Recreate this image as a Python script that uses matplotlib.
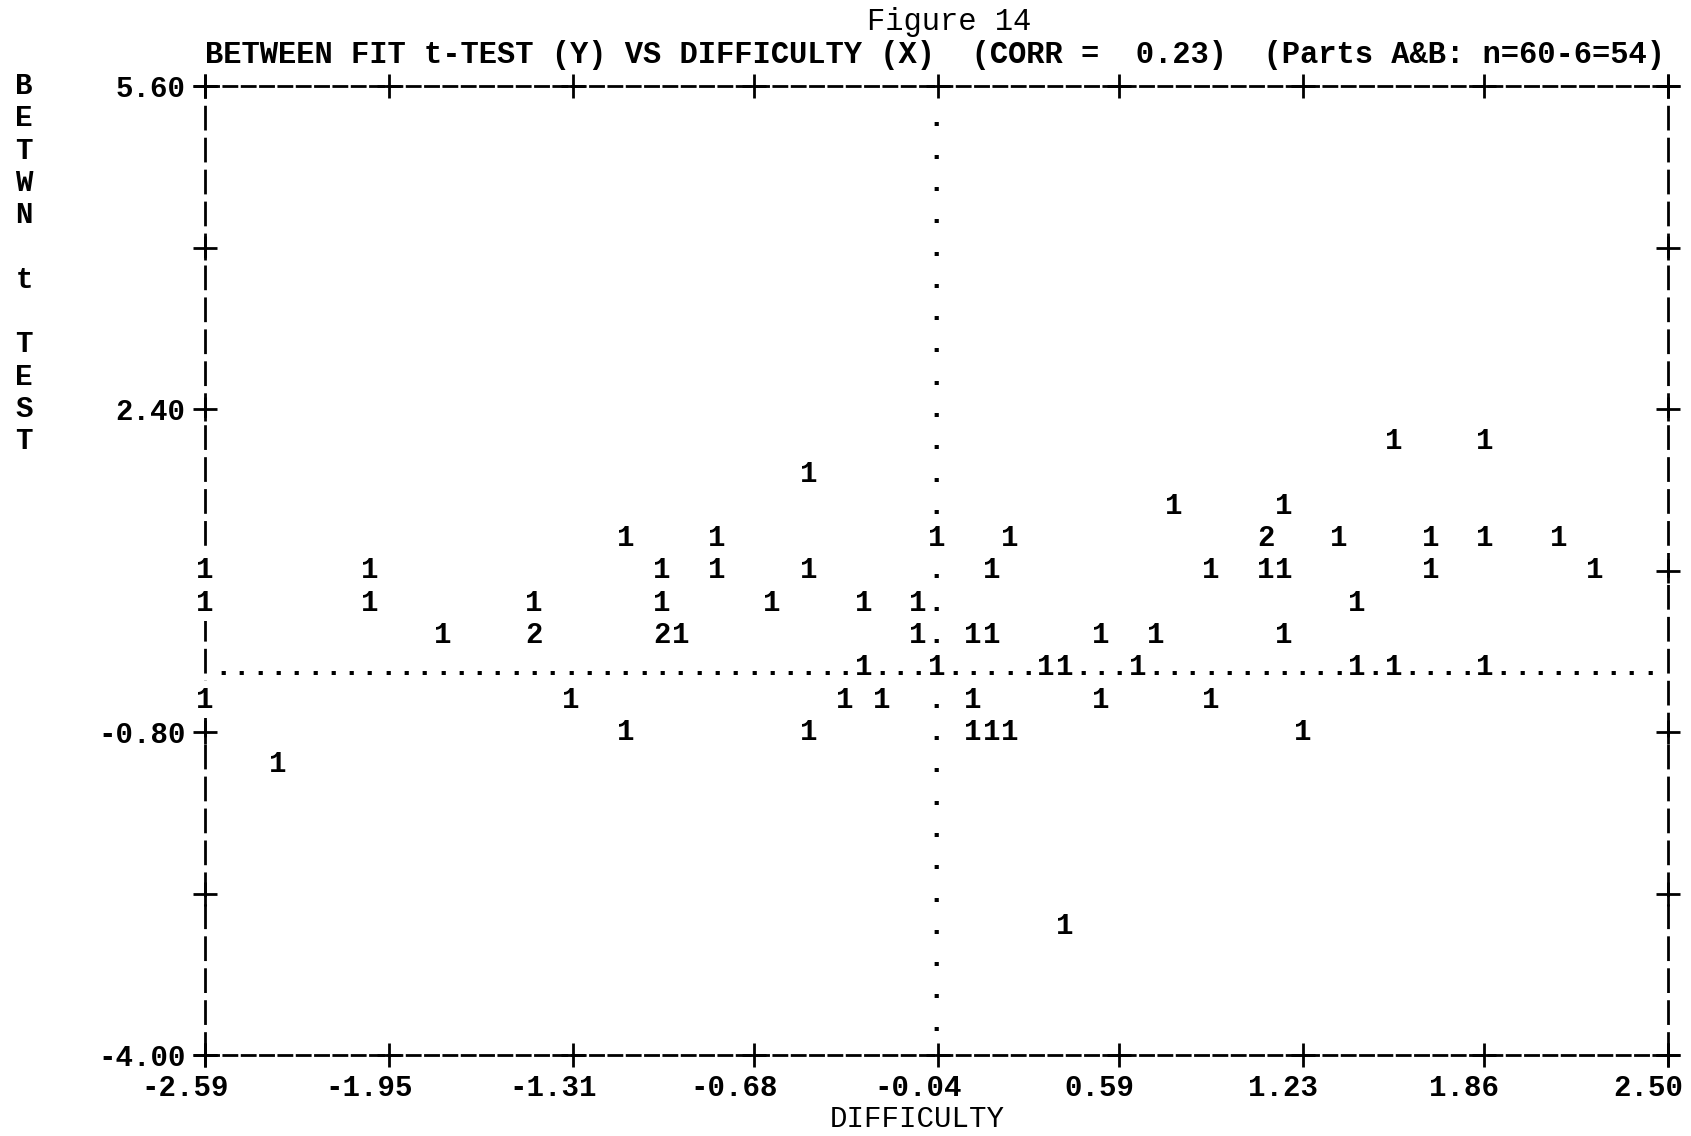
import numpy as np
import matplotlib
matplotlib.use("Agg")
import matplotlib.pyplot as plt
import matplotlib.transforms as mtransforms
from collections import Counter

plt.rcParams['font.family'] = ['Liberation Mono', 'DejaVu Sans Mono']

# values (one entry per item, duplicates = "2")
difficulty = [1.55, 1.86,
              -0.49,
              0.78, 1.16,
              -1.13, -0.81, -0.04, 0.21, 1.10, 1.10, 1.35, 1.67, 1.86, 2.12,
              -2.59, -2.02, -1.00, -0.81, -0.49, 0.15, 0.91, 1.10, 1.16, 1.67, 2.25,
              -2.59, -2.02, -1.44, -1.00, -0.62, -0.30, -0.11, 1.42,
              -1.76, -1.44, -1.44, -1.00, -1.00, -0.94, -0.11, 0.08, 0.15, 0.53, 0.72, 1.16,
              -0.30, -0.04, 0.34, 0.40, 0.65, 1.42, 1.55, 1.86,
              -2.59, -1.32, -0.36, -0.24, 0.08, 0.53, 0.91,
              -1.13, -0.49, 0.08, 0.15, 0.21, 1.23,
              -2.34,
              0.40]
between_t = [2.08] * 2 + [1.76] * 1 + [1.44] * 2 + [1.12] * 10 + [0.80] * 11 + \
            [0.48] * 8 + [0.16] * 12 + [-0.16] * 8 + [-0.48] * 7 + [-0.80] * 6 + \
            [-1.12] * 1 + [-2.72] * 1

x_ticks = [-2.59, -1.95, -1.31, -0.68, -0.04, 0.59, 1.23, 1.86, 2.50]
x_labels = ["-2.59", "-1.95", "-1.31", "-0.68", "-0.04", "0.59", "1.23", "1.86", "2.50"]
y_ticks = [5.60, 4.00, 2.40, 0.80, -0.80, -2.40, -4.00]
y_labels = ["5.60", "", "2.40", "", "-0.80", "", "-4.00"]
mean_x = -0.04
mean_y = -0.16

title1 = "Figure 14"
title2 = "BETWEEN FIT t-TEST (Y) VS DIFFICULTY (X)  (CORR =  0.23)  (Parts A&B: n=60-6=54)"
ylab = "BETWN t TEST"
xlab = "DIFFICULTY"

FS = 21
xmin, xmax = x_ticks[0], x_ticks[-1]
ymin, ymax = y_ticks[-1], y_ticks[0]
ncol, nrow = 80, 30
dx = (xmax - xmin) / ncol
dy = (ymax - ymin) / nrow

fig = plt.figure(figsize=(16.91, 11.36), dpi=100)
ax = fig.add_axes([205 / 1691, 1 - 1055 / 1136, 1463 / 1691, 969 / 1136])
ax.set_xlim(xmin, xmax)
ax.set_ylim(ymin, ymax)

# dashed typewriter frame
for side in ['top', 'bottom']:
    ax.spines[side].set_linestyle((0, (4.7, 1.9)))
    ax.spines[side].set_linewidth(2)
for side in ['left', 'right']:
    ax.spines[side].set_linestyle((0, (7.9, 3.6)))
    ax.spines[side].set_linewidth(2)

ax.set_xticks(x_ticks, x_labels, fontsize=FS, fontweight='bold')
ax.set_yticks(y_ticks, y_labels, fontsize=FS, fontweight='bold')
ax.tick_params(length=0, pad=14)
shift = mtransforms.ScaledTranslation(-0.2, 0, fig.dpi_scale_trans)
for lbl in ax.get_xticklabels():
    lbl.set_transform(lbl.get_transform() + shift)

# "+" marks on the frame
pk = dict(marker='+', ms=17, mew=2, color='k', ls='none', clip_on=False, zorder=2.6)
ax.plot(x_ticks, [ymax] * len(x_ticks), **pk)
ax.plot(x_ticks, [ymin] * len(x_ticks), **pk)
ax.plot([xmin] * len(y_ticks), y_ticks, **pk)
ax.plot([xmax] * len(y_ticks), y_ticks, **pk)

# snap points to the character grid and count
cells = Counter()
for x, y in zip(difficulty, between_t):
    c = int(round((x - xmin) / dx))
    r = int(round((ymax - y) / dy))
    cells[(c, r)] += 1

for (c, r), n in cells.items():
    # a digit printed on the frame column overwrites the border character
    edge = dict(boxstyle='square,pad=0.15', fc='white', ec='none') if c in (0, ncol) else None
    ax.text(xmin + c * dx, ymax - r * dy, str(n), ha='center', va='center',
            fontsize=FS, fontweight='bold', clip_on=False, zorder=6, bbox=edge)

# mean lines drawn as dots where no point is printed
mc = int(round((mean_x - xmin) / dx))
mr = int(round((ymax - mean_y) / dy))
for r in range(1, nrow):
    if (mc, r) not in cells:
        ax.text(xmin + mc * dx, ymax - r * dy, ".", ha='center', va='center',
                fontsize=FS, fontweight='bold')
for c in range(1, ncol):
    if (c, mr) not in cells and c != mc:
        ax.text(xmin + c * dx, ymax - mr * dy, ".", ha='center', va='center',
                fontsize=FS, fontweight='bold')

# stacked y label, one letter per print row
bt = mtransforms.blended_transform_factory(fig.transFigure, ax.transData)
for i, ch in enumerate(ylab):
    if ch != " ":
        ax.text(24 / 1691, ymax - i * dy, ch, transform=bt, ha='center', va='center',
                fontsize=FS, fontweight='bold')

fig.text(949 / 1691, 1 - 22 / 1136, title1, ha='center', va='center', fontsize=22)
fig.text(205 / 1691, 1 - 55 / 1136, title2, ha='left', va='center', fontsize=22,
         fontweight='bold')
fig.text(917 / 1691, 1 - 1119 / 1136, xlab, ha='center', va='center', fontsize=FS)

fig.savefig("out.png", dpi=100, facecolor='white')
